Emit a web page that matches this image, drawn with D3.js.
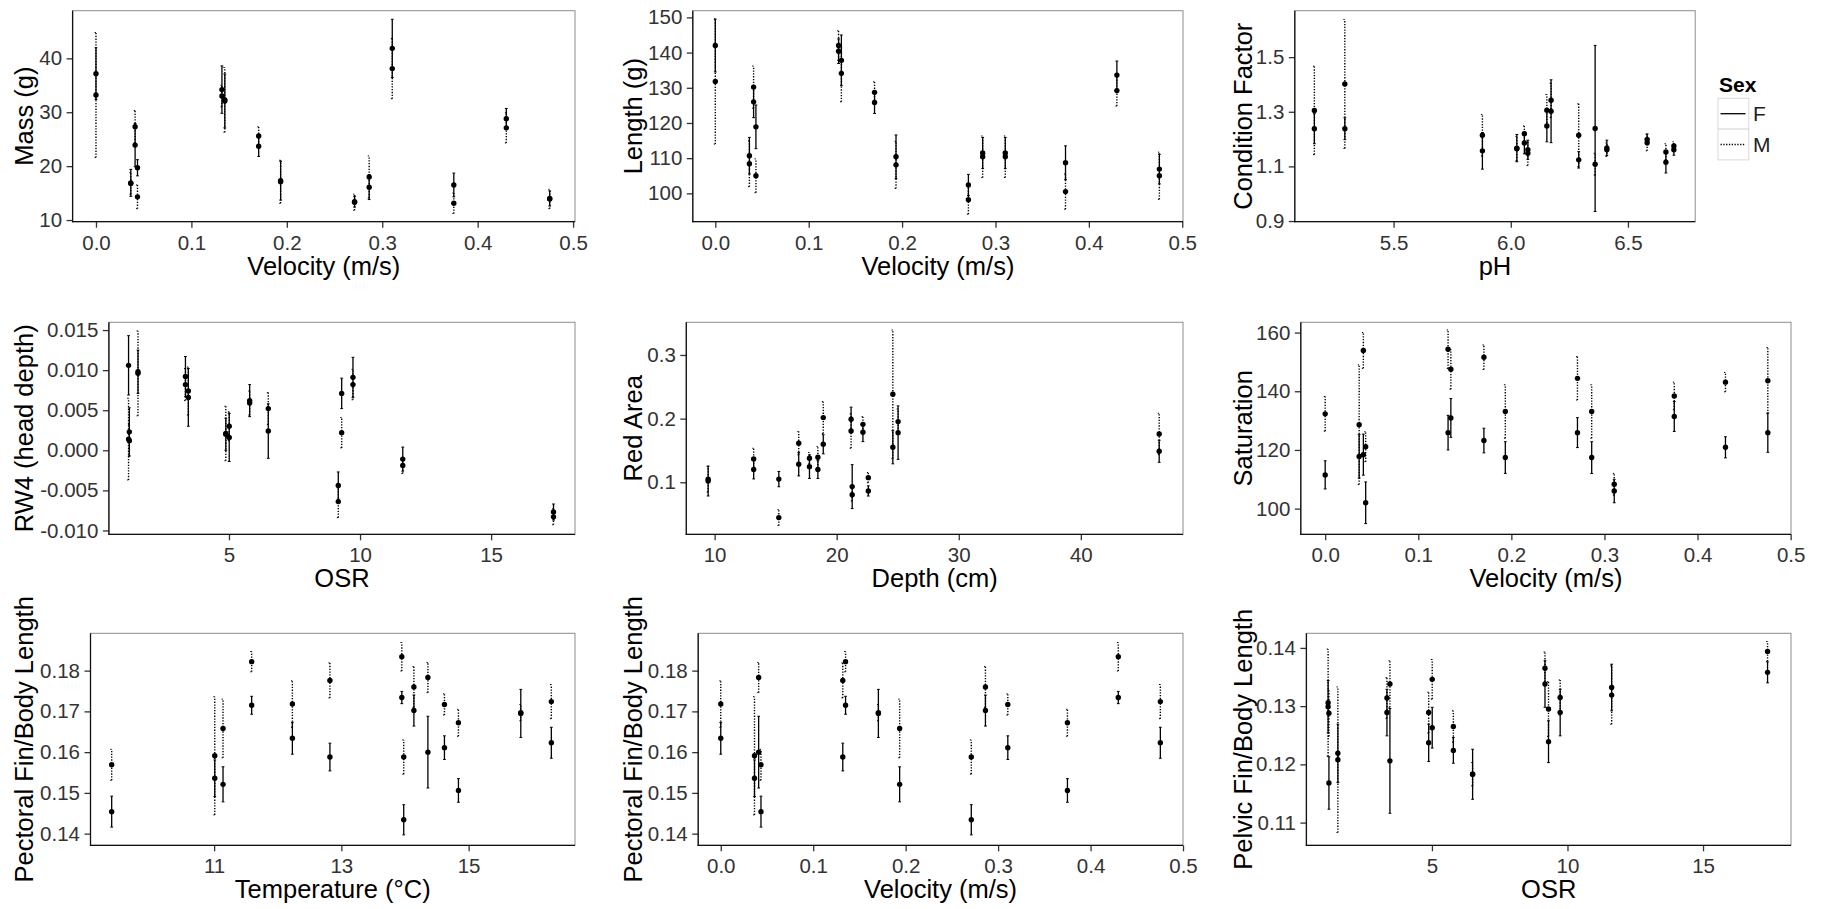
<!DOCTYPE html>
<html>
<head>
<meta charset="utf-8">
<script src="https://cdn.jsdelivr.net/npm/d3@7"></script>
<style>
  body { margin: 0; background: #fff; }
  svg { display: block; font-family: "Liberation Sans", Arial, sans-serif; }
</style>
</head>
<body>
<svg id="fig" width="1828" height="909"></svg>
<script>
// ---- Sites ordered by stream velocity (shared by the velocity and temperature panels)
const velocity    = [0, 0.0365, 0.041, 0.0435, 0.132, 0.135, 0.1705, 0.1935, 0.271, 0.2863, 0.3105, 0.375, 0.43, 0.4755];
const temperature = [12.23, 11.01, 14.36, 9.39, 12.82, 11.59, 15.82, 11.14, 13.98, 14.14, 14.62, 14.84, 13.95, 16.3];

const massF    = [37.15, 16.9, 23.9, 19.7, 34.2, 32.1, 23.7, 17.3, 13.4, 16.1, 41.85, 16.5, 28.8, 14.0];
const massFse  = [4.8, 2.5, 4.0, 1.5, 4.4, 5.0, 1.9, 3.6, 1.0, 2.3, 5.4, 2.2, 1.9, 1.4];
const massM    = [33.2, 16.8, 27.3, 14.3, 33.0, 32.3, 25.6, 17.1, 13.3, 18.0, 38.1, 13.1, 27.1, 13.9];
const massMse  = [11.6, 2.0, 3.0, 2.2, 2.0, 6.0, 1.7, 4.0, 1.5, 3.9, 5.6, 1.9, 2.8, 1.8];

const lengthF   = [142.0, 110.7, 126.0, 118.9, 140.4, 137.8, 125.8, 110.4, 102.4, 111.5, 111.5, 108.7, 133.6, 106.9];
const lengthFse = [7.5, 5.2, 4.5, 6.2, 3.5, 7.2, 3.1, 6.2, 3.0, 4.4, 4.4, 4.8, 4.0, 4.2];
const lengthM   = [131.8, 108.4, 130.2, 105.0, 142.0, 134.1, 128.7, 108.1, 98.2, 110.4, 110.4, 100.5, 129.2, 105.0];
const lengthMse = [17.8, 6.5, 6.0, 4.8, 4.2, 8.1, 3.0, 6.7, 4.1, 5.9, 5.9, 5.0, 4.4, 6.7];

const satF   = [111.5, 117.8, 118.4, 102.0, 125.9, 130.9, 123.2, 117.4, 125.9, 117.4, 106.0, 131.4, 120.9, 125.9];
const satFse = [4.8, 7.4, 7.0, 7.1, 5.9, 6.6, 4.2, 5.4, 5.1, 5.4, 4.0, 5.1, 3.6, 6.7];
const satM   = [132.3, 128.6, 153.9, 121.1, 154.3, 147.5, 151.6, 133.1, 144.4, 133.1, 108.3, 138.4, 143.1, 143.6];
const satMse = [5.9, 20.4, 6.1, 5.1, 6.6, 6.8, 4.2, 9.1, 7.4, 9.1, 3.7, 4.7, 3.3, 11.3];

const pectF   = [0.1634, 0.1536, 0.1600, 0.1454, 0.1588, 0.1715, 0.1695, 0.1521, 0.1434, 0.1702, 0.1611, 0.1506, 0.1734, 0.1623];
const pectFse = [0.0039, 0.0045, 0.0088, 0.0038, 0.0034, 0.0022, 0.0059, 0.0043, 0.0037, 0.0038, 0.0029, 0.0029, 0.0015, 0.0038];
const pectM   = [0.1718, 0.1591, 0.1783, 0.1569, 0.1776, 0.1822, 0.1697, 0.1658, 0.1588, 0.1760, 0.1717, 0.1672, 0.1834, 0.1724];
const pectMse = [0.0057, 0.0145, 0.0037, 0.0038, 0.0043, 0.0025, 0.0020, 0.0072, 0.0042, 0.0050, 0.0026, 0.0033, 0.0035, 0.0042];

// ---- Sites ordered by pH
const pH       = [5.162, 5.292, 5.879, 6.026, 6.058, 6.073, 6.154, 6.172, 6.29, 6.36, 6.41, 6.582, 6.662, 6.696];
const condF    = [1.238, 1.238, 1.157, 1.167, 1.186, 1.161, 1.248, 1.302, 1.124, 1.239, 1.168, 1.199, 1.115, 1.161];
const condFse  = [0.055, 0.040, 0.067, 0.050, 0.040, 0.035, 0.058, 0.115, 0.030, 0.304, 0.028, 0.020, 0.039, 0.020];
const condM    = [1.305, 1.402, 1.214, 1.165, 1.220, 1.148, 1.306, 1.342, 1.214, 1.108, 1.161, 1.187, 1.153, 1.175];
const condMse  = [0.162, 0.236, 0.076, 0.045, 0.028, 0.045, 0.057, 0.063, 0.115, 0.040, 0.025, 0.030, 0.030, 0.015];

// ---- Sites ordered by operational sex ratio
const osr      = [1.17, 1.2, 1.53, 3.34, 3.45, 4.88, 5.01, 5.79, 6.5, 9.17, 9.3, 9.73, 11.63, 17.38];
const rw4F     = [0.0106, 0.0023, 0.0098, 0.0092, 0.0066, 0.0020, 0.0016, 0.0062, 0.0024, -0.0044, 0.0071, 0.0091, -0.0011, -0.0077];
const rw4Fse   = [0.0037, 0.0030, 0.0027, 0.0025, 0.0036, 0.0020, 0.0030, 0.0020, 0.0034, 0.0017, 0.0019, 0.0025, 0.0015, 0.0010];
const rw4M     = [0.0014, 0.0012, 0.0096, 0.0082, 0.0074, 0.0021, 0.0030, 0.0059, 0.0052, -0.0064, 0.0022, 0.0082, -0.0019, -0.0083];
const rw4Mse   = [0.0051, 0.0020, 0.0053, 0.0020, 0.0030, 0.0034, 0.0018, 0.0015, 0.0020, 0.0020, 0.0019, 0.0019, 0.0010, 0.0010];
const pelvF    = [0.1299, 0.1168, 0.1219, 0.1289, 0.1206, 0.1237, 0.1263, 0.1224, 0.1183, 0.1338, 0.1239, 0.1289, 0.1332, 0.1358];
const pelvFse  = [0.0045, 0.0045, 0.0050, 0.0040, 0.0090, 0.0032, 0.0035, 0.0022, 0.0043, 0.0040, 0.0036, 0.0040, 0.0040, 0.0018];
const pelvM    = [0.1306, 0.1288, 0.1208, 0.1314, 0.1338, 0.1289, 0.1346, 0.1265, 0.1183, 0.1365, 0.1295, 0.1315, 0.1319, 0.1394];
const pelvMse  = [0.0092, 0.0040, 0.0125, 0.0035, 0.0040, 0.0035, 0.0034, 0.0027, 0.0020, 0.0028, 0.0047, 0.0030, 0.0050, 0.0017];

// ---- Sites ordered by water depth
const depth    = [9.47, 13.2, 15.26, 16.89, 17.77, 18.46, 18.9, 21.18, 21.27, 22.15, 22.59, 24.6, 25.03, 46.42];
const redF     = [0.102, 0.120, 0.105, 0.1283, 0.1246, 0.120, 0.1597, 0.199, 0.0932, 0.1785, 0.0864, 0.155, 0.178, 0.1487];
const redFse   = [0.0235, 0.0147, 0.012, 0.0183, 0.0185, 0.014, 0.015, 0.019, 0.0345, 0.0146, 0.008, 0.026, 0.042, 0.0173];
const redM     = [0.1047, 0.1367, 0.0445, 0.1613, 0.1377, 0.1393, 0.2016, 0.1806, 0.0806, 0.191, 0.1073, 0.2382, 0.1953, 0.1759];
const redMse   = [0.020, 0.0167, 0.0125, 0.0183, 0.009, 0.017, 0.025, 0.027, 0.010, 0.012, 0.008, 0.101, 0.020, 0.0325];

// ---- Tick values
const velocityTicks = [0, 0.1, 0.2, 0.3, 0.4, 0.5];
const tempTicks     = [11, 13, 15];
const pHTicks       = [5.5, 6.0, 6.5];
const osrTicks      = [5, 10, 15];
const depthTicks    = [10, 20, 30, 40];
const massTicks     = [10, 20, 30, 40];
const lengthTicks   = [100, 110, 120, 130, 140, 150];
const condTicks     = [0.9, 1.1, 1.3, 1.5];
const rw4Ticks      = [-0.010, -0.005, 0, 0.005, 0.010, 0.015];
const redTicks      = [0.1, 0.2, 0.3];
const satTicks      = [100, 120, 140, 160];
const pectTicks     = [0.14, 0.15, 0.16, 0.17, 0.18];
const pelvTicks     = [0.11, 0.12, 0.13, 0.14];

const sexLevels = ["F", "M"];

// ---- Formatting helpers (hyphen-minus, as in R output)
const fmt = s => { const f = d3.format(s); return v => f(v).replace("\u2212", "-"); };

// ---- Panel layout: [left, top, right, bottom] of each plotting region
const colTitleX = [33, 642, 1251.5];
const panels = [
  { col: 0, box: [72.6, 10.7, 575, 221.7],    x: velocity, xDom: [-0.0245, 0.502], xTicks: velocityTicks, xFmt: fmt(".1f"), xTitle: "Velocity (m/s)",
    yDom: [9.69, 48.84], yTicks: massTicks, yFmt: fmt("d"), yTitle: "Mass (g)", F: massF, Fse: massFse, M: massM, Mse: massMse },
  { col: 1, box: [692.8, 10.7, 1183, 221.7],  x: velocity, xDom: [-0.0241, 0.5008], xTicks: velocityTicks, xFmt: fmt(".1f"), xTitle: "Velocity (m/s)",
    yDom: [91.95, 151.9], yTicks: lengthTicks, yFmt: fmt("d"), yTitle: "Length (g)", F: lengthF, Fse: lengthFse, M: lengthM, Mse: lengthMse },
  { col: 2, box: [1294.8, 10.7, 1695.2, 221.7], x: pH, xDom: [5.0785, 6.787], xTicks: pHTicks, xFmt: fmt(".1f"), xTitle: "pH",
    yDom: [0.8976, 1.670], yTicks: condTicks, yFmt: fmt(".1f"), yTitle: "Condition Factor", F: condF, Fse: condFse, M: condM, Mse: condMse, legend: true },
  { col: 0, box: [108.9, 322.3, 575, 534.3],  x: osr, xDom: [0.42, 18.2], xTicks: osrTicks, xFmt: fmt("d"), xTitle: "OSR",
    yDom: [-0.01048, 0.01597], yTicks: rw4Ticks, yFmt: fmt(".3f"), yTitle: "RW4 (head depth)", F: rw4F, Fse: rw4Fse, M: rw4M, Mse: rw4Mse },
  { col: 1, box: [686.3, 322.3, 1183, 534.3], x: depth, xDom: [7.68, 48.37], xTicks: depthTicks, xFmt: fmt("d"), xTitle: "Depth (cm)",
    yDom: [0.0183, 0.3513], yTicks: redTicks, yFmt: fmt(".1f"), yTitle: "Red Area", F: redF, Fse: redFse, M: redM, Mse: redMse },
  { col: 2, box: [1300.8, 322.3, 1791, 534.3], x: velocity, xDom: [-0.0262, 0.5004], xTicks: velocityTicks, xFmt: fmt(".1f"), xTitle: "Velocity (m/s)",
    yDom: [91.25, 163.5], yTicks: satTicks, yFmt: fmt("d"), yTitle: "Saturation", F: satF, Fse: satFse, M: satM, Mse: satMse },
  { col: 0, box: [90.5, 633.3, 575, 845.3],   x: temperature, xDom: [9.057, 16.672], xTicks: tempTicks, xFmt: fmt("d"), xTitle: "Temperature (\u00B0C)",
    yDom: [0.13714, 0.18916], yTicks: pectTicks, yFmt: fmt(".2f"), yTitle: "Pectoral Fin/Body Length", F: pectF, Fse: pectFse, M: pectM, Mse: pectMse },
  { col: 1, box: [698.2, 633.3, 1183, 845.3], x: velocity, xDom: [-0.0244, 0.5], xTicks: velocityTicks, xFmt: fmt(".1f"), xTitle: "Velocity (m/s)",
    yDom: [0.13714, 0.18916], yTicks: pectTicks, yFmt: fmt(".2f"), yTitle: "Pectoral Fin/Body Length", F: pectF, Fse: pectFse, M: pectM, Mse: pectMse },
  { col: 2, box: [1306.4, 633.3, 1791, 845.3], x: osr, xDom: [0.369, 18.245], xTicks: osrTicks, xFmt: fmt("d"), xTitle: "OSR",
    yDom: [0.1061, 0.14251], yTicks: pelvTicks, yFmt: fmt(".2f"), yTitle: "Pelvic Fin/Body Length", F: pelvF, Fse: pelvFse, M: pelvM, Mse: pelvMse }
];

const svg = d3.select("#fig");
const TICK_FONT = 20.5, TITLE_FONT = 25.5, TICK_LEN = 6;
const lineStyle = { F: null, M: "1.3,1.5" };

panels.forEach(p => {
  const [L, T, R, B] = p.box;
  const xs = d3.scaleLinear().domain(p.xDom).range([L, R]);
  const ys = d3.scaleLinear().domain(p.yDom).range([B, T]);
  const g = svg.append("g");

  // panel border
  g.append("rect").attr("x", L).attr("y", T).attr("width", R - L).attr("height", B - T)
    .attr("fill", "none").attr("stroke", "#8c8c8c").attr("stroke-width", 1);

  // axes
  const xAxis = d3.axisBottom(xs).tickValues(p.xTicks).tickFormat(p.xFmt).tickSize(TICK_LEN).tickSizeOuter(0).tickPadding(7.5);
  const yAxis = d3.axisLeft(ys).tickValues(p.yTicks).tickFormat(p.yFmt).tickSize(TICK_LEN).tickSizeOuter(0).tickPadding(4.5);
  const gx = g.append("g").attr("transform", `translate(0,${B})`).call(xAxis);
  const gy = g.append("g").attr("transform", `translate(${L},0)`).call(yAxis);
  [gx, gy].forEach(a => {
    a.select(".domain").remove();
    a.selectAll(".tick line").attr("stroke", "#333").attr("stroke-width", 1.3);
    a.selectAll(".tick text").attr("fill", "#333").style("font-size", TICK_FONT + "px")
      .style("font-family", '"Liberation Sans", Arial, sans-serif');
  });
  // axis lines (left and bottom)
  g.append("line").attr("x1", L).attr("x2", L).attr("y1", T).attr("y2", B + 0.6).attr("stroke", "#111").attr("stroke-width", 1.3);
  g.append("line").attr("x1", L - 0.6).attr("x2", R).attr("y1", B).attr("y2", B).attr("stroke", "#111").attr("stroke-width", 1.3);

  // axis titles
  g.append("text").attr("x", (L + R) / 2).attr("y", B + 53).attr("text-anchor", "middle")
    .style("font-size", TITLE_FONT + "px").attr("fill", "#000").text(p.xTitle);
  g.append("text").attr("transform", `translate(${colTitleX[p.col]},${(T + B) / 2}) rotate(-90)`)
    .attr("text-anchor", "middle").style("font-size", TITLE_FONT + "px").attr("fill", "#000").text(p.yTitle);

  // rows of means with their error ranges, one row per site and sex
  const rows = [];
  p.x.forEach((xv, i) => {
    rows.push({ x: xv, sex: "M", m: p.M[i], se: p.Mse[i] });
    rows.push({ x: xv, sex: "F", m: p.F[i], se: p.Fse[i] });
  });
  const bars = g.append("g");
  ["M", "F"].forEach(sex => {
    const sub = rows.filter(r => r.sex === sex);
    const eb = bars.selectAll(null).data(sub).enter().append("g")
      .attr("stroke", "#000").attr("stroke-width", sex === "F" ? 1.3 : 1.4)
      .attr("stroke-dasharray", lineStyle[sex]);
    eb.append("line").attr("x1", d => xs(d.x)).attr("x2", d => xs(d.x))
      .attr("y1", d => ys(d.m - d.se)).attr("y2", d => ys(d.m + d.se));
    eb.append("line").attr("x1", d => xs(d.x) - 1.4).attr("x2", d => xs(d.x) + 1.4)
      .attr("y1", d => ys(d.m + d.se)).attr("y2", d => ys(d.m + d.se))
      .attr("stroke-dasharray", null).attr("stroke-width", 1);
    eb.append("line").attr("x1", d => xs(d.x) - 1.4).attr("x2", d => xs(d.x) + 1.4)
      .attr("y1", d => ys(d.m - d.se)).attr("y2", d => ys(d.m - d.se))
      .attr("stroke-dasharray", null).attr("stroke-width", 1);
  });
  g.append("g").selectAll("circle").data(rows).enter().append("circle")
    .attr("cx", d => xs(d.x)).attr("cy", d => ys(d.m)).attr("r", 2.7).attr("fill", "#000");

  // legend for sex
  if (p.legend) {
    const lg = svg.append("g").attr("transform", "translate(1718,0)");
    lg.append("text").attr("x", 1).attr("y", 92.3).style("font-size", "21px").style("font-weight", "bold").text("Sex");
    sexLevels.forEach((s, i) => {
      const top = 98.3 + i * 30.8;
      lg.append("rect").attr("x", 0).attr("y", top).attr("width", 30.8).attr("height", 30.8)
        .attr("fill", "#fff").attr("stroke", "#d9d9d9").attr("stroke-width", 1);
      lg.append("line").attr("x1", 2.5).attr("x2", 27.5).attr("y1", top + 15.4).attr("y2", top + 15.4)
        .attr("stroke", "#000").attr("stroke-width", 1.3).attr("stroke-dasharray", lineStyle[s]);
      lg.append("text").attr("x", 35).attr("y", top + 15.4).attr("dy", "0.36em")
        .style("font-size", "21px").attr("fill", "#222").text(s);
    });
  }
});
</script>
</body>
</html>
